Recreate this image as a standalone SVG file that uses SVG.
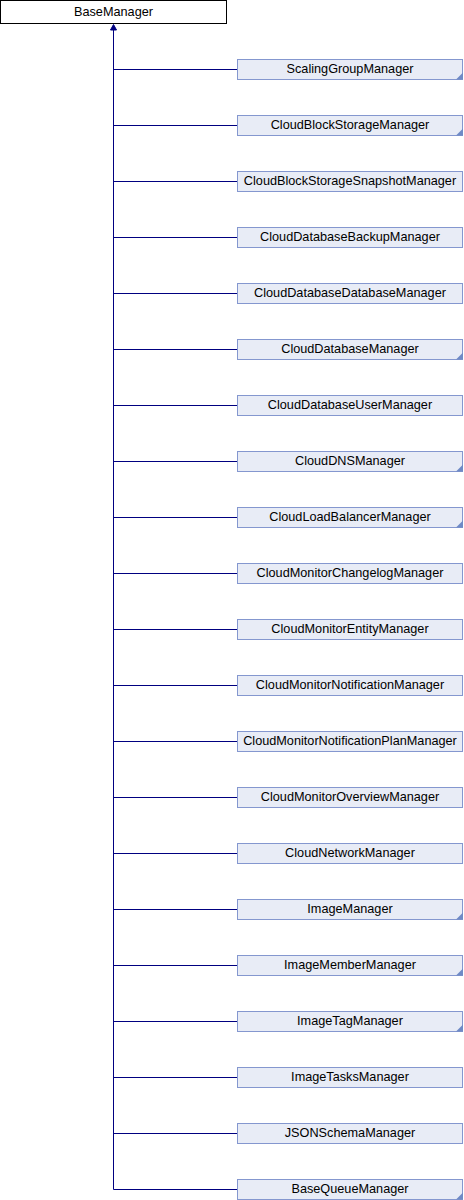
<svg xmlns="http://www.w3.org/2000/svg" width="464" height="1200" viewBox="0 0 464 1200">
<style>
.box{fill:#E8ECF6;stroke:#8497CF;stroke-width:1}
.root{fill:#FFFFFF;stroke:#000000;stroke-width:1}
.lbl{font-family:"Liberation Sans",Arial,sans-serif;font-size:12.7px;fill:#000000;text-anchor:middle}
.more{fill:#6F8AC6}
.edge{stroke:#000080;stroke-width:1;fill:none}
.head{fill:#000080;stroke:#000080;stroke-width:1}
</style>
<defs>
<g id="tri"><polygon class="more" points="463,72.5 463,79.5 456,79.5"/></g>
</defs>
<g id="connectors">
<path class="edge" d="M113.5,30 V1189.5 H237"/>
<polygon class="head" points="113.5,24.5 116.5,30 110.5,30"/>
<path class="edge" d="M113.5,69.5H237M113.5,125.5H237M113.5,181.5H237M113.5,237.5H237M113.5,293.5H237M113.5,349.5H237M113.5,405.5H237M113.5,461.5H237M113.5,517.5H237M113.5,573.5H237M113.5,629.5H237M113.5,685.5H237M113.5,741.5H237M113.5,797.5H237M113.5,853.5H237M113.5,909.5H237M113.5,965.5H237M113.5,1021.5H237M113.5,1077.5H237M113.5,1133.5H237"/>
</g>
<g id="BaseManager"><rect class="root" x="0.5" y="0.5" width="226" height="23"/><text class="lbl" x="113.5" y="15.5">BaseManager</text></g>
<g id="ScalingGroupManager"><rect class="box" x="237.5" y="59.5" width="225" height="20"/><use href="#tri"/><text class="lbl" x="350" y="73">ScalingGroupManager</text></g>
<g id="CloudBlockStorageManager"><rect class="box" x="237.5" y="115.5" width="225" height="20"/><use href="#tri" y="56"/><text class="lbl" x="350" y="129">CloudBlockStorageManager</text></g>
<g id="CloudBlockStorageSnapshotManager"><rect class="box" x="237.5" y="171.5" width="225" height="20"/><text class="lbl" x="350" y="185">CloudBlockStorageSnapshotManager</text></g>
<g id="CloudDatabaseBackupManager"><rect class="box" x="237.5" y="227.5" width="225" height="20"/><text class="lbl" x="350" y="241">CloudDatabaseBackupManager</text></g>
<g id="CloudDatabaseDatabaseManager"><rect class="box" x="237.5" y="283.5" width="225" height="20"/><text class="lbl" x="350" y="297">CloudDatabaseDatabaseManager</text></g>
<g id="CloudDatabaseManager"><rect class="box" x="237.5" y="339.5" width="225" height="20"/><use href="#tri" y="280"/><text class="lbl" x="350" y="353">CloudDatabaseManager</text></g>
<g id="CloudDatabaseUserManager"><rect class="box" x="237.5" y="395.5" width="225" height="20"/><text class="lbl" x="350" y="409">CloudDatabaseUserManager</text></g>
<g id="CloudDNSManager"><rect class="box" x="237.5" y="451.5" width="225" height="20"/><use href="#tri" y="392"/><text class="lbl" x="350" y="465">CloudDNSManager</text></g>
<g id="CloudLoadBalancerManager"><rect class="box" x="237.5" y="507.5" width="225" height="20"/><use href="#tri" y="448"/><text class="lbl" x="350" y="521">CloudLoadBalancerManager</text></g>
<g id="CloudMonitorChangelogManager"><rect class="box" x="237.5" y="563.5" width="225" height="20"/><text class="lbl" x="350" y="577">CloudMonitorChangelogManager</text></g>
<g id="CloudMonitorEntityManager"><rect class="box" x="237.5" y="619.5" width="225" height="20"/><text class="lbl" x="350" y="633">CloudMonitorEntityManager</text></g>
<g id="CloudMonitorNotificationManager"><rect class="box" x="237.5" y="675.5" width="225" height="20"/><text class="lbl" x="350" y="689">CloudMonitorNotificationManager</text></g>
<g id="CloudMonitorNotificationPlanManager"><rect class="box" x="237.5" y="731.5" width="225" height="20"/><text class="lbl" x="350" y="745">CloudMonitorNotificationPlanManager</text></g>
<g id="CloudMonitorOverviewManager"><rect class="box" x="237.5" y="787.5" width="225" height="20"/><text class="lbl" x="350" y="801">CloudMonitorOverviewManager</text></g>
<g id="CloudNetworkManager"><rect class="box" x="237.5" y="843.5" width="225" height="20"/><text class="lbl" x="350" y="857">CloudNetworkManager</text></g>
<g id="ImageManager"><rect class="box" x="237.5" y="899.5" width="225" height="20"/><use href="#tri" y="840"/><text class="lbl" x="350" y="913">ImageManager</text></g>
<g id="ImageMemberManager"><rect class="box" x="237.5" y="955.5" width="225" height="20"/><use href="#tri" y="896"/><text class="lbl" x="350" y="969">ImageMemberManager</text></g>
<g id="ImageTagManager"><rect class="box" x="237.5" y="1011.5" width="225" height="20"/><use href="#tri" y="952"/><text class="lbl" x="350" y="1025">ImageTagManager</text></g>
<g id="ImageTasksManager"><rect class="box" x="237.5" y="1067.5" width="225" height="20"/><text class="lbl" x="350" y="1081">ImageTasksManager</text></g>
<g id="JSONSchemaManager"><rect class="box" x="237.5" y="1123.5" width="225" height="20"/><text class="lbl" x="350" y="1137">JSONSchemaManager</text></g>
<g id="BaseQueueManager"><rect class="box" x="237.5" y="1179.5" width="225" height="20"/><use href="#tri" y="1120"/><text class="lbl" x="350" y="1193">BaseQueueManager</text></g>
</svg>
